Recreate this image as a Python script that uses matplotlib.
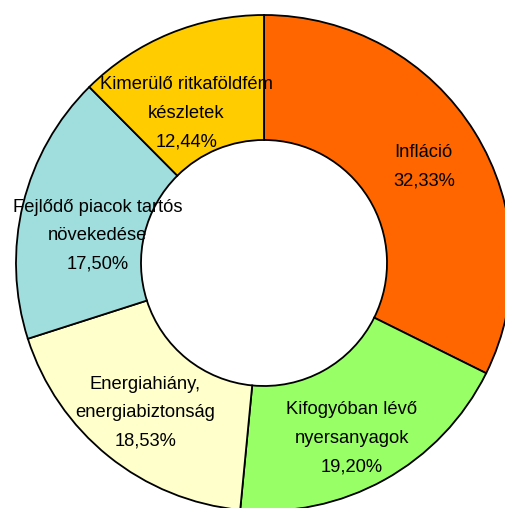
"""
Donut chart: main drivers (Hungarian labels)
"""

import numpy as np
import matplotlib
matplotlib.use('Agg')
import matplotlib.pyplot as plt

# Data (clockwise from 12 o'clock)
categories = [
    "Infláció",
    "Kifogyóban lévő\nnyersanyagok",
    "Energiahiány,\nenergiabiztonság",
    "Fejlődő piacok tartós\nnövekedése",
    "Kimerülő ritkaföldfém\nkészletek",
]
shares = [32.33, 19.20, 18.53, 17.50, 12.44]
colors = ["#FF6600", "#99FF66", "#FFFFCC", "#A0DEDE", "#FFCC00"]

# label placement tweaks (fraction of radius, angle offset in degrees)
label_r = [0.752, 0.79, 0.77, 0.68, 0.68]
label_dang = [-0.8, -2.4, 0.4, 4.5, 5.1]

plt.rcParams['font.family'] = ['Liberation Sans', 'DejaVu Sans']

fig = plt.figure(figsize=(5.06, 5.08), dpi=100)
ax = fig.add_axes([0, 0, 1, 1])

labels = [f"{c}\n{v:.2f}%".replace(".", ",") for c, v in zip(categories, shares)]
center = (264, 245)
radius = 248

wedges, texts = ax.pie(
    shares,
    labels=labels,
    colors=colors,
    startangle=90,
    counterclock=False,
    center=center,
    radius=radius,
    wedgeprops=dict(width=125, edgecolor="black", linewidth=1.3),
    textprops=dict(fontsize=13.2, ha="center", va="center", linespacing=1.88),
)
for w, t, fr, da in zip(wedges, texts, label_r, label_dang):
    ang = np.deg2rad((w.theta1 + w.theta2) / 2 + da)
    t.set_position((center[0] + fr * radius * np.cos(ang),
                    center[1] + fr * radius * np.sin(ang)))
    t.set_horizontalalignment("center")
    t.set_verticalalignment("center")

ax.set_xlim(0, 506)
ax.set_ylim(0, 508)
ax.set_aspect("equal")
ax.axis("off")

plt.savefig("out.png", dpi=100)
plt.close()
